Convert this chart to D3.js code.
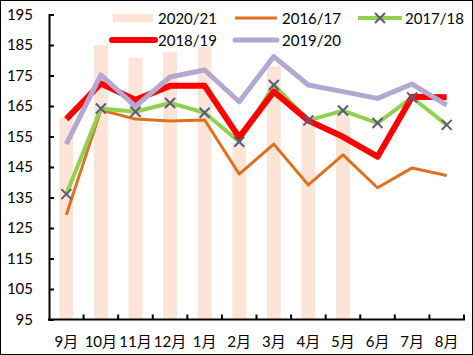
<!DOCTYPE html>
<html><head><meta charset="utf-8">
<script src="https://cdn.jsdelivr.net/npm/d3@7"></script>
<style>body{margin:0;background:#fff}svg{display:block}text{font-family:Lato,"Noto Sans CJK SC",sans-serif}</style>
</head><body><svg id="c" width="473" height="355"></svg>
<script>
const months = ["9月","10月","11月","12月","1月","2月","3月","4月","5月","6月","7月","8月"];
const yTicks = [95,105,115,125,135,145,155,165,175,185,195];
const s2020_21 = [161.1,185,180.8,182.8,184.4,153,178,160.3,162.5,null,null,null];
const s2016_17 = [129.3,163.7,160.7,160.1,160.4,142.7,152.5,139.1,149,138.2,144.7,142.2];
const s2017_18 = [136.1,164.2,163.1,166,162.8,153.3,171.9,160.3,163.5,159.4,167.8,158.8];
const s2018_19 = [160.7,172.4,167,171.6,171.6,154.7,169.7,160.2,154.9,148.4,168,167.9];
const s2019_20 = [152.5,175.2,164.9,174.5,176.8,166.4,181.2,171.9,169.7,167.5,172.2,165.3];

const svg = d3.select("#c");
const x = d3.scaleBand().domain(months).range([49,464]);
const y = d3.scaleLinear().domain([95,195]).range([319.5,14.5]);

svg.append("rect").attr("x",0.5).attr("y",0.5).attr("width",472).attr("height",354).attr("fill","#fff").attr("stroke","#000");

// bars
const bw = x.bandwidth()*0.4;
svg.append("g").selectAll("rect").data(months.map((m,i)=>({m,v:s2020_21[i]})).filter(d=>d.v!=null))
  .join("rect").attr("x",d=>x(d.m)+x.bandwidth()/2-bw/2).attr("width",bw)
  .attr("y",d=>y(d.v)).attr("height",d=>y(95)-y(d.v)).attr("fill","#FCE4D6");

// axes
const yAxis = d3.axisLeft(y).tickValues(yTicks).tickSize(-5).tickPadding(16).tickFormat(d3.format("d"));
const gy = svg.append("g").attr("transform","translate(49,0)").call(yAxis);
gy.select(".domain").attr("stroke","#000").attr("stroke-width",2);
gy.selectAll(".tick line").attr("stroke","#000").attr("stroke-width",2);
gy.selectAll("text").attr("font-size",15).attr("fill","#000").attr("font-family",'Lato,"Noto Sans CJK SC",sans-serif');

const xb = d3.scalePoint().domain(d3.range(13)).range([49,464]);
const gx = svg.append("g").attr("transform","translate(0,319.5)");
gx.append("line").attr("x1",48).attr("x2",465).attr("stroke","#000").attr("stroke-width",2);
gx.selectAll("line.t").data(d3.range(1,13)).join("line").attr("class","t")
  .attr("x1",d=>xb(d)).attr("x2",d=>xb(d)).attr("y1",0).attr("y2",-5).attr("stroke","#000").attr("stroke-width",2);
gx.selectAll("text").data(months).join("text").attr("x",d=>x(d)+x.bandwidth()/2).attr("y",27)
  .attr("text-anchor","middle").attr("font-size",15).attr("fill","#000").text(d=>d);

const line = d3.line().defined(d=>d.v!=null).x(d=>x(d.m)+x.bandwidth()/2).y(d=>y(d.v));
const toPts = arr => months.map((m,i)=>({m,v:arr[i]}));
const series = [
  {name:"2016/17",data:s2016_17,color:"#DE7020",w:3},
  {name:"2017/18",data:s2017_18,color:"#92D050",w:4},
  {name:"2018/19",data:s2018_19,color:"#FF0000",w:6},
  {name:"2019/20",data:s2019_20,color:"#B4A7D0",w:5}
];
series.forEach(s=>{
  svg.append("path").datum(toPts(s.data)).attr("d",line).attr("fill","none")
    .attr("stroke",s.color).attr("stroke-width",s.w).attr("stroke-linejoin","round");
});
// X markers
const mk = (g,cx,cy)=>{
  g.append("path").attr("d",`M${cx-5},${cy-5}L${cx+5},${cy+5}M${cx-5},${cy+5}L${cx+5},${cy-5}`)
   .attr("stroke","#5E5A7C").attr("stroke-width",2).attr("fill","none");
};
const gm = svg.append("g");
toPts(s2017_18).forEach(d=>mk(gm,x(d.m)+x.bandwidth()/2,y(d.v)));

// legend
const lg = svg.append("g");
const fs = 15;
lg.append("rect").attr("x",113).attr("y",14).attr("width",40).attr("height",8).attr("fill","#FCE4D6");
lg.append("text").attr("x",158).attr("y",23.5).attr("font-size",fs).text("2020/21");
lg.append("line").attr("x1",235).attr("x2",277).attr("y1",18).attr("y2",18).attr("stroke","#DE7020").attr("stroke-width",3);
lg.append("text").attr("x",282).attr("y",23.5).attr("font-size",fs).text("2016/17");
lg.append("line").attr("x1",358).attr("x2",402).attr("y1",18).attr("y2",18).attr("stroke","#92D050").attr("stroke-width",4);
mk(lg,380,18);
lg.append("text").attr("x",405).attr("y",23.5).attr("font-size",fs).text("2017/18");
lg.append("line").attr("x1",112).attr("x2",155).attr("y1",40).attr("y2",40).attr("stroke","#FF0000").attr("stroke-width",6).attr("stroke-linecap","round");
lg.append("text").attr("x",158).attr("y",45.5).attr("font-size",fs).text("2018/19");
lg.append("line").attr("x1",235).attr("x2",277).attr("y1",40).attr("y2",40).attr("stroke","#B4A7D0").attr("stroke-width",5).attr("stroke-linecap","round");
lg.append("text").attr("x",282).attr("y",45.5).attr("font-size",fs).text("2019/20");
</script></body></html>
